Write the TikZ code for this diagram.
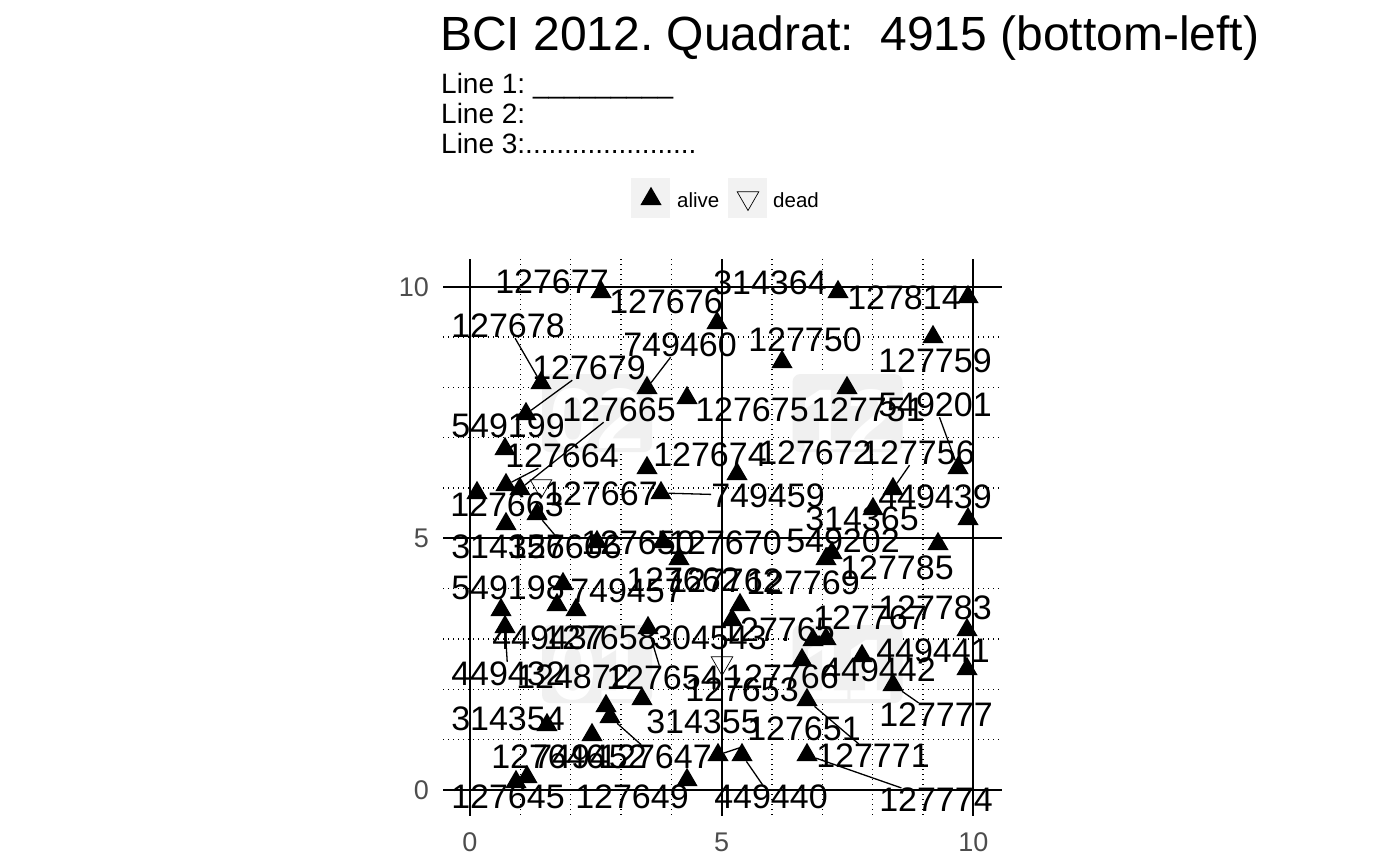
\documentclass[tikz,border=0pt]{standalone}
\usepackage{fontspec}
\setmainfont{Liberation Sans}
\usetikzlibrary{shapes.geometric}
\definecolor{keybg}{HTML}{F2F2F2}
\definecolor{wmbg}{HTML}{F0F0F0}
\definecolor{ticktxt}{HTML}{4D4D4D}
\tikzset{
  alive/.style={regular polygon, regular polygon sides=3, fill=black, draw=none, inner sep=0pt, minimum size=24.5pt, yshift=-3pt},
  dead/.style={regular polygon, regular polygon sides=3, shape border rotate=180, draw=black, line width=0.7pt, fill=none, inner sep=0pt, minimum size=25pt, yshift=3pt},
  tlabel/.style={inner sep=0pt, font=\fontsize{34}{34}\selectfont},
  conn/.style={line width=1.3pt, black},
  gridmajor/.style={line width=1.8pt, black},
  gridminor/.style={line width=1.1pt, black, dash pattern=on 1.2pt off 3.8pt},
  wmbox/.style={fill=wmbg, draw=none, rounded corners=8pt, minimum width=110pt, minimum height=78pt, inner sep=0pt},
  wmtext/.style={text=white, font=\fontsize{86}{86}\selectfont\bfseries, inner sep=0pt},
  ticklab/.style={text=ticktxt, font=\fontsize{27}{27}\selectfont, inner sep=0pt},
  keybox/.style={fill=keybg, draw=none, minimum width=39pt, minimum height=40pt, inner sep=0pt},
  keytext/.style={anchor=base west, inner sep=0pt, font=\fontsize{20.5}{20.5}\selectfont},
  subline/.style={anchor=base west, inner sep=0pt, font=\fontsize{28}{28}\selectfont},
}
\frenchspacing
\begin{document}
\begin{tikzpicture}[x=1pt, y=-1pt]
\path[use as bounding box, fill=white] (0,0) rectangle (1400,865);

% title and subtitle
\node[anchor=base west, inner sep=0pt, font=\fontsize{48}{48}\selectfont] (title) at (440,50) {BCI 2012. Quadrat:\ \ 4915 (bottom-left)};
\node[subline] (sub1) at (441,93) {Line 1: \_\_\_\_\_\_\_\_\_};
\node[subline] (sub2) at (441,123) {Line 2:};
\node[subline] (sub3) at (441,153) {Line 3:......................};

% legend
\node[keybox] (key1) at (650.5,198) {};
\node[alive] (keya) at (651,196) {};
\node[keytext] (keyat) at (677,207) {alive};
\node[keybox] (key2) at (747,198) {};
\node[dead] (keyd) at (748,201) {};
\node[keytext] (keydt) at (773,207) {dead};

% grid
\foreach \u in {1,2,3,4,6,7,8,9} {
  \draw[gridminor] ({470+50.33*\u},259) -- ({470+50.33*\u},816);
  \draw[gridminor] (443,{790-50.33*\u}) -- (1002,{790-50.33*\u});
}
\foreach \u in {0,5,10} {
  \draw[gridmajor] ({470+50.33*\u},259) -- ({470+50.33*\u},816);
  \draw[gridmajor] (443,{790-50.33*\u}) -- (1002,{790-50.33*\u});
}

% axis tick labels
\node[ticklab, anchor=east] (ty10) at (429,287) {10};
\node[ticklab, anchor=east] (ty5) at (429,538) {5};
\node[ticklab, anchor=east] (ty0) at (429,790) {0};
\node[ticklab] (tx0) at (470,842) {0};
\node[ticklab] (tx5) at (721.7,842) {5};
\node[ticklab] (tx10) at (973.3,842) {10};

% quadrant watermarks
\node[wmbox] (w02) at (597,413) {};
\node[wmtext] (w02t) at (597,419) {02};
\node[wmbox] (w12) at (847.5,413) {};
\node[wmtext] (w12t) at (847.5,419) {12};
\node[wmbox] (w01) at (597,664) {};
\node[wmtext] (w01t) at (597,670) {01};
\node[wmbox] (w11) at (847.5,664) {};
\node[wmtext] (w11t) at (847.5,670) {11};

% trees
\node[alive] (a1) at (601,289) {};
\node[alive] (a2) at (717,320) {};
\node[alive] (a3) at (838,289) {};
\node[alive] (a4) at (968,294) {};
\node[alive] (a5) at (541,380) {};
\node[alive] (a6) at (526,411) {};
\node[alive] (a7) at (647,385) {};
\node[alive] (a8) at (687,395) {};
\node[alive] (a9) at (782,359) {};
\node[alive] (a10) at (933,334) {};
\node[alive] (a11) at (847,385) {};
\node[alive] (a12) at (505,446) {};
\node[alive] (a13) at (647,465) {};
\node[alive] (a14) at (737,471) {};
\node[alive] (a15) at (958,465) {};
\node[alive] (a16) at (893,486) {};
\node[alive] (a17) at (873,506) {};
\node[alive] (a18) at (968,516) {};
\node[alive] (a19) at (938,541) {};
\node[alive] (a20) at (826,556) {};
\node[alive] (a21) at (832,550) {};
\node[alive] (a22) at (477,490) {};
\node[alive] (a23) at (506,482) {};
\node[alive] (a24) at (520,486) {};
\node[dead] (d1) at (541,489) {};
\node[alive] (a25) at (537,511) {};
\node[alive] (a26) at (506,521) {};
\node[alive] (a27) at (661,490) {};
\node[alive] (a28) at (597,539) {};
\node[alive] (a29) at (663,539) {};
\node[alive] (a30) at (679,556) {};
\node[alive] (a31) at (563,581) {};
\node[alive] (a32) at (557,602) {};
\node[alive] (a33) at (576,607) {};
\node[alive] (a34) at (501,607) {};
\node[alive] (a35) at (505,624) {};
\node[alive] (a36) at (740,602) {};
\node[alive] (a37) at (732,617) {};
\node[alive] (a38) at (648,625) {};
\node[alive] (a39) at (813,637) {};
\node[alive] (a40) at (826,636) {};
\node[alive] (a41) at (802,657) {};
\node[alive] (a42) at (862,653) {};
\node[alive] (a43) at (967,627) {};
\node[alive] (a44) at (967,666) {};
\node[alive] (a45) at (893,682) {};
\node[alive] (a46) at (807,697) {};
\node[dead] (d2) at (722,666) {};
\node[alive] (a47) at (606,703) {};
\node[alive] (a48) at (610,714) {};
\node[alive] (a49) at (642,696) {};
\node[alive] (a50) at (547,722) {};
\node[alive] (a51) at (592,732) {};
\node[alive] (a52) at (516,779) {};
\node[alive] (a53) at (527,774) {};
\node[alive] (a54) at (687,777) {};
\node[alive] (a55) at (718,752) {};
\node[alive] (a56) at (742,752) {};
\node[alive] (a57) at (807,752) {};

% labels
\node[tlabel] (l1) at (552,282) {127677};
\node[tlabel] (l2) at (666,302) {127676};
\node[tlabel] (l3) at (770,283) {314364};
\node[tlabel] (l4) at (904,298) {127814};
\node[tlabel] (l5) at (508,326) {127678};
\node[tlabel] (l6) at (680,345) {749460};
\node[tlabel] (l7) at (805,340) {127750};
\node[tlabel] (l8) at (935,361) {127759};
\node[tlabel] (l9) at (589,368) {127679};
\node[tlabel] (l10) at (619,410) {127665};
\node[tlabel] (l11) at (752,410) {127675};
\node[tlabel] (l12) at (868,410) {127751};
\node[tlabel] (l13) at (935,405) {549201};
\node[tlabel] (l14) at (508,426) {549199};
\node[tlabel] (l15) at (562,456) {127664};
\node[tlabel] (l16) at (710,455) {127674};
\node[tlabel] (l17) at (815,453) {127672};
\node[tlabel] (l18) at (918,453) {127756};
\node[tlabel] (l19) at (601,494) {127667};
\node[tlabel] (l20) at (768,496) {749459};
\node[tlabel] (l21) at (507,505) {127663};
\node[tlabel] (l22) at (935,497) {449439};
\node[tlabel] (l23) at (862,519) {314365};
\node[tlabel] (l24) at (508,547) {314356};
\node[tlabel] (l25) at (565,547) {127666};
\node[tlabel] (l26) at (638,543) {127650};
\node[tlabel] (l27) at (725,543) {127670};
\node[tlabel] (l28) at (843,541) {549202};
\node[tlabel] (l29) at (897,568) {127785};
\node[tlabel] (l30) at (508,588) {549198};
\node[tlabel] (l31) at (627,591) {749457};
\node[tlabel] (l32) at (683,580) {127662};
\node[tlabel] (l33) at (725,581) {127762};
\node[tlabel] (l34) at (803,583) {127769};
\node[tlabel] (l35) at (935,608) {127783};
\node[tlabel] (l36) at (549,638) {449437};
\node[tlabel] (l37) at (600,638) {127658};
\node[tlabel] (l38) at (710,638) {304543};
\node[tlabel] (l39) at (778,630) {127765};
\node[tlabel] (l40) at (870,618) {127767};
\node[tlabel] (l41) at (933,651) {449441};
\node[tlabel] (l42) at (508,674) {449432};
\node[tlabel] (l43) at (573,677) {124872};
\node[tlabel] (l44) at (663,678) {127654};
\node[tlabel] (l45) at (782,677) {127766};
\node[tlabel] (l46) at (742,690) {127653};
\node[tlabel] (l47) at (879,670) {449442};
\node[tlabel] (l48) at (936,715) {127777};
\node[tlabel] (l49) at (508,719) {314354};
\node[tlabel] (l50) at (703,722) {314355};
\node[tlabel] (l51) at (804,729) {127651};
\node[tlabel] (l52) at (548,757) {127646};
\node[tlabel] (l53) at (590,757) {749452};
\node[tlabel] (l54) at (655,757) {127647};
\node[tlabel] (l55) at (873,756) {127771};
\node[tlabel] (l56) at (508,797) {127645};
\node[tlabel] (l57) at (632,797) {127649};
\node[tlabel] (l58) at (771,797) {449440};
\node[tlabel] (l59) at (936,800) {127774};

% connectors
\coordinate (c2) at (742,747);
\draw[conn] (l5) -- (a5);
\draw[conn] (l6) -- (a7);
\draw[conn] (l9) -- (a6);
\draw[conn] (l10) -- (a24);
\draw[conn] (l13) -- (a15);
\draw[conn] (l15) -- (a23);
\draw[conn] (l18) -- (a16);
\draw[conn] (l20) -- (a27);
\draw[conn] (l25) -- (a25);
\draw[conn] (l42) -- (a35);
\draw[conn] (l44) -- (a38);
\draw[conn] (l48) -- (a45);
\draw[conn] (l55) -- (a46);
\draw[conn] (l59) -- (a57);
\draw[conn] (l58) -- (a56);
\draw[conn] (l54) -- (a48);
\draw[conn] (a55) -- (c2);
\end{tikzpicture}
\end{document}
